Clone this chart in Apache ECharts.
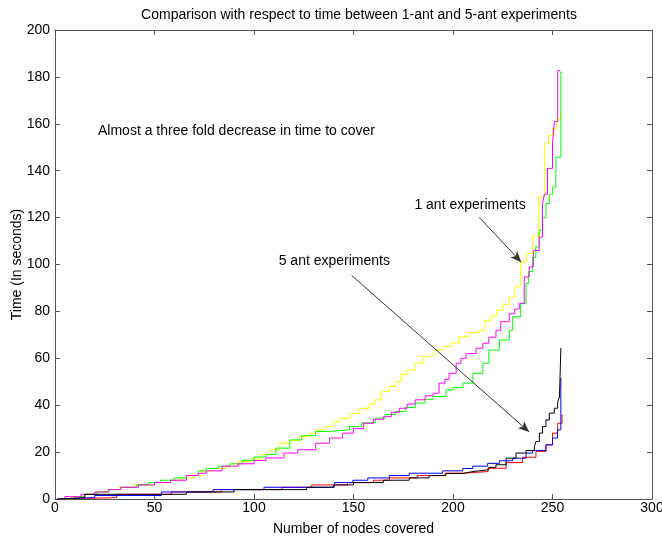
<!DOCTYPE html>
<html lang="en">
<head>
    <meta charset="UTF-8">
    <title>1-ant vs 5-ant</title>
    <script src="https://cdn.jsdelivr.net/npm/echarts@6/dist/echarts.min.js"></script>
    <style>
        html, body { margin: 0; padding: 0; background: #fff; }
        #chart { width: 662px; height: 538px; }
    </style>
</head>
<body>
    <div id="chart"></div>
    <script>
        // step points: [nodes covered, time] ; each time holds until the next x
        const yellow = [[2,0],[8,1],[14,2],[20,3],[26,4],[32,5],[40,6],[50,7],[58,8],[64,9],[70,10],[74,12],[80,13],[86,14],[92,16],[98,17],[104,19],[108,21],[113,23.8],[118,25],[123,26.6],[128,28],[131,29.5],[136,31],[140,33],[143,34.5],[148,36.5],[153,38.7],[158,40.5],[161,42.3],[164,45.8],[168,48],[171,50],[174,53],[177,55],[181,58],[185,60.7],[188,61.5],[191,63.5],[195,65],[199,66.5],[203,69.2],[208,71],[213,72],[216,76],[219,78],[222,80.5],[225,83],[228,86],[231,90.5],[234,101],[237,104.7],[240,112],[243,128.8],[246,151.5],[248,155],[250,158],[252,162],[254,165],[255,165]];
        const green = [[5,0],[10,1],[15,2],[21,3],[27,4],[33,5],[41,6],[47,7],[53,8],[60,9],[66,10],[72,12],[76,13],[82,14],[88,15],[94,16.5],[100,17.9],[106,19],[111,21.7],[118,25.2],[124,27],[131,28.8],[138,29.5],[148,30.9],[154,32.5],[161,34.5],[166,36],[171,37.3],[176,39],[181,40.9],[186,42.5],[190,43.7],[196.5,46.5],[200,47.5],[205,49.4],[210,53.6],[215,57.9],[218,63.5],[223.3,67.8],[228.3,72],[230,77.7],[234,83.4],[236.7,92],[238,97],[240,103],[241.6,107.5],[243.3,114.6],[245,120],[246.7,126],[248.4,130],[250,133],[251.7,145.8],[254.2,182],[255,182]];
        const magenta = [[3,0],[5,1],[13,2],[20,3],[27,4],[33,5],[42,6],[50,7],[58,8],[66,10],[72,11],[76,12],[84,14],[92,15],[100,16.4],[106,17.5],[115,19.6],[122,21],[131,23.8],[138,26],[144.6,28.1],[150,30],[155,32.3],[160,34],[165,35.1],[169,37],[173,38.7],[177,40.5],[181,42.3],[186,44],[190,45.1],[193,49.4],[196,51],[198,53.6],[201.6,57.9],[204,60],[206.6,62],[211.6,64.3],[215,66.4],[218,69],[221.6,72],[224,75.6],[228.3,79],[231,81],[233.3,83.4],[235.8,94.7],[238.3,99],[240.5,106],[243.3,111.7],[245,126],[245.9,130],[247.5,141],[250,152],[251,161],[252.6,182.7],[254,182.7]];
        const red = [[2,0],[4,0.6],[31,2],[58.5,3],[83.6,4],[114,5],[129,6],[147,7],[160,8],[168,9],[182,10],[196,11],[205,11.7],[217.6,13.1],[226.7,15.5],[235,17.8],[241.7,20.3],[246.7,23.1],[250,28.1],[252.6,32.3],[254.8,35.8],[255.2,35.8]];
        const blue = [[1,0],[3,0.6],[20,1.5],[53.5,3],[79.4,4],[105,5],[140.4,7],[149.7,8],[157.2,9],[168,10],[178,11],[194.8,12],[204.9,13],[209.9,14],[217.4,15.2],[223.3,16.3],[230,17.4],[236.7,19.6],[240,20.7],[246.7,23.1],[250,26],[252.5,29.5],[254.2,51.7],[254.5,51.7]];
        const black = [[1,0],[3,0.6],[15,2],[66,3],[90,4],[126.5,5],[140,6],[150,7],[165,8],[178,9],[188,10],[196.5,10.9],[205,11.7],[210,12.5],[218,13.5],[221.6,14.6],[226.7,17.4],[231.7,19.6],[236.7,20.7],[240.9,22.4],[241.7,24.5],[243.4,28.1],[245,30.9],[246.7,33.7],[248.4,36.6],[250.9,38.7],[252.6,41.5],[253.5,43.5],[254.2,64.4],[254.4,64.4]];

        // annotations (data coords)
        const notes = [
            {text: 'Almost a three fold decrease in time to cover', at: [21.6, 156.7]},
            {text: '1 ant experiments', at: [180.6, 125.2]},
            {text: '5 ant experiments', at: [112.4, 101.4]}
        ];
        const arrows = [
            [[213.2, 120.1], [234.3, 101]],
            [[149, 95.4], [238.3, 28.6]]
        ];

        const font = 'Liberation Sans, Arial, sans-serif';
        const axisLine = {show: true, onZero: false, lineStyle: {color: '#555', width: 1}};
        const tick = {inside: true, length: 5, lineStyle: {color: '#555'}};

        const stairs = (name, data, color) => ({
            name, type: 'line', step: 'end', data,
            symbol: 'none', lineStyle: {color, width: 1}, silent: true
        });

        const chart = echarts.init(document.getElementById('chart'));
        const series = [
            stairs('yellow', yellow, '#ffff00'),
            stairs('green', green, '#00ff00'),
            stairs('magenta', magenta, '#ff00ff'),
            stairs('red', red, '#ff0000'),
            stairs('blue', blue, '#0000ff'),
            stairs('black', black, '#000000')
        ];
        series[5].markLine = {
            silent: true,
            symbol: ['none', 'arrow'],
            symbolSize: [7, 11],
            label: {show: false},
            lineStyle: {color: '#333', width: 1, type: 'solid'},
            data: arrows.map(([a, b]) => [{coord: a}, {coord: b}])
        };

        chart.setOption({
            animation: false,
            title: {
                text: 'Comparison with respect to time between 1-ant and 5-ant experiments',
                left: 354, top: 3, textAlign: 'center',
                textStyle: {fontFamily: font, fontSize: 14, fontWeight: 'normal', color: '#000'}
            },
            grid: {left: 55, right: 10, top: 30, bottom: 39, outerBoundsMode: 'none', containLabel: false},
            xAxis: [{
                type: 'value', min: 0, max: 300, interval: 50,
                name: 'Number of nodes covered', nameLocation: 'middle', nameGap: 23,
                nameTextStyle: {fontFamily: font, fontSize: 14, color: '#000'},
                axisLine, axisTick: tick, splitLine: {show: false},
                axisLabel: {fontFamily: font, fontSize: 14, color: '#000', margin: 2}
            }, {
                type: 'value', position: 'top', min: 0, max: 300, interval: 50,
                axisLine, axisTick: tick, splitLine: {show: false}, axisLabel: {show: false}
            }],
            yAxis: [{
                type: 'value', min: 0, max: 200, interval: 20,
                name: 'Time (In seconds)', nameLocation: 'middle', nameGap: 31, nameRotate: 90,
                nameMoveOverlap: false,
                nameTextStyle: {fontFamily: font, fontSize: 14, color: '#000'},
                axisLine, axisTick: tick, splitLine: {show: false},
                axisLabel: {fontFamily: font, fontSize: 14, color: '#000', margin: 5}
            }, {
                type: 'value', position: 'right', min: 0, max: 200, interval: 20,
                axisLine, axisTick: tick, splitLine: {show: false},
                axisLabel: {show: false}
            }],
            series
        });

        chart.setOption({
            graphic: notes.map(n => {
                const [px, py] = chart.convertToPixel({xAxisIndex: 0, yAxisIndex: 0}, n.at);
                return {
                    type: 'text', x: px, y: py, silent: true,
                    style: {text: n.text, font: '14px ' + font, fill: '#000', verticalAlign: 'middle'}
                };
            })
        });
    </script>
</body>
</html>
